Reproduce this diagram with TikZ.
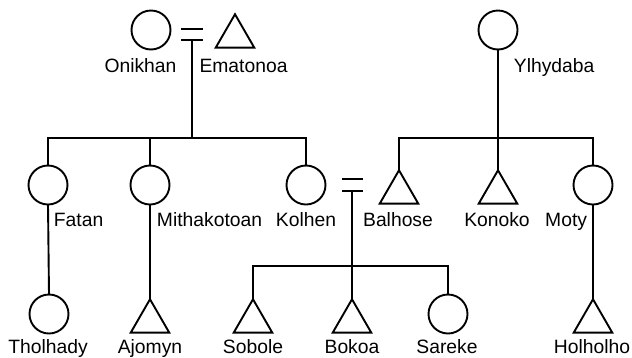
\documentclass[tikz,border=0pt]{standalone}
\usepackage{fontspec}
\setmainfont{Liberation Sans}
\usetikzlibrary{shapes.geometric}
\begin{document}
\begin{tikzpicture}[x=1pt,y=-1pt,line width=1.9pt,
  fem/.style={draw,circle,minimum size=39pt,inner sep=0pt,outer sep=0pt},
  mal/.style={draw,regular polygon,regular polygon sides=3,minimum size=44.5pt,inner sep=0pt,outer sep=0pt},
  lbl/.style={font=\fontsize{19.3}{22}\selectfont,inner sep=0pt,anchor=base},
  lblw/.style={lbl,anchor=base west},
  lble/.style={lbl,anchor=base east}]
\useasboundingbox (0,0) rectangle (632,357);
% top generation
\node[fem] (onikhan) at (151,30) {};
\node[mal] (ematonoa) at (235,36.5) {};
\node[fem] (ylhydaba) at (498,30) {};
\node[lbl] (lonikhan) at (140.5,72) {Onikhan};
\node[lbl] (lematonoa) at (243.5,72) {Ematonoa};
\node[lblw] (lylhydaba) at (513,72) {Ylhydaba};
% middle generation
\node[fem] (fatan) at (48,185) {};
\node[fem] (mith) at (150,185) {};
\node[fem] (kolhen) at (306,185) {};
\node[mal] (balhose) at (399,192.5) {};
\node[mal] (konoko) at (498,192.5) {};
\node[fem] (moty) at (593,185) {};
\node[lblw] (lfatan) at (53,226) {Fatan};
\node[lblw] (lmith) at (156,226) {Mithakotoan};
\node[lbl] (lkolhen) at (306,226) {Kolhen};
\node[lbl] (lbalhose) at (398,226) {Balhose};
\node[lbl] (lkonoko) at (497,226) {Konoko};
\node[lble] (lmoty) at (588,226) {Moty};
% bottom generation
\node[fem] (tholhady) at (49,314) {};
\node[mal] (ajomyn) at (150,321.5) {};
\node[mal] (sobole) at (253,321.5) {};
\node[mal] (bokoa) at (352,321.5) {};
\node[fem] (sareke) at (448,314) {};
\node[mal] (holholho) at (593,321.5) {};
\node[lbl] (ltholhady) at (48,353) {Tholhady};
\node[lbl] (lajomyn) at (150,353) {Ajomyn};
\node[lbl] (lsobole) at (253,353) {Sobole};
\node[lbl] (lbokoa) at (352,353) {Bokoa};
\node[lbl] (lsareke) at (447,353) {Sareke};
\node[lbl] (lholholho) at (592,353) {Holholho};
% marriage 1
\coordinate (m1a) at (181,29);
\coordinate (m1b) at (203,29);
\coordinate (m1c) at (181,40);
\coordinate (m1d) at (203,40);
\coordinate (m1) at (192,40);
\coordinate (s1) at (192,138);
\draw (m1a) -- (m1b);
\draw (m1c) -- (m1d);
\draw (m1) -- (s1);
\draw (fatan.north) |- (s1) -| (kolhen.north);
\draw (mith.north) -- (mith.north |- s1);
% Ylhydaba children
\coordinate (s2) at (498,138);
\draw (ylhydaba.south) -- (s2);
\draw (balhose.corner 1) |- (s2) -| (moty.north);
\draw (konoko.corner 1) -- (s2);
% marriage 2
\coordinate (m2a) at (342,179);
\coordinate (m2b) at (363,179);
\coordinate (m2c) at (342,191);
\coordinate (m2d) at (363,191);
\coordinate (m2) at (352,191);
\coordinate (s3) at (352,266);
\draw (m2a) -- (m2b);
\draw (m2c) -- (m2d);
\draw (m2) -- (bokoa.corner 1);
\draw (sobole.corner 1) |- (s3) -| (sareke.north);
% descents
\draw (fatan.south) -- (tholhady.north);
\draw (mith.south) -- (ajomyn.corner 1);
\draw (moty.south) -- (holholho.corner 1);
\end{tikzpicture}
\end{document}
